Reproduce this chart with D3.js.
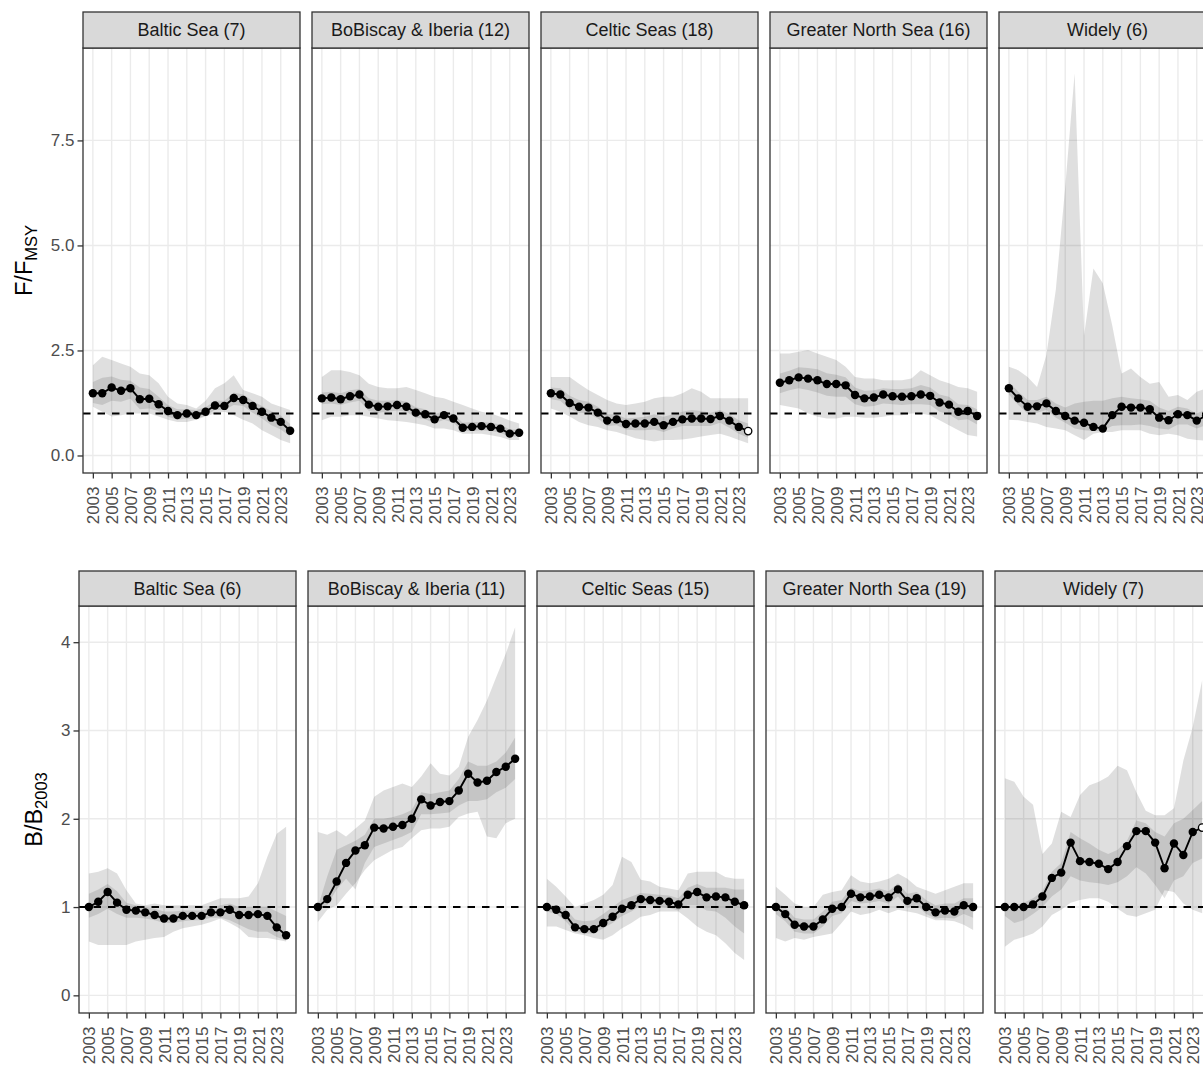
<!DOCTYPE html>
<html>
<head>
<meta charset="utf-8">
<script src="https://cdn.jsdelivr.net/npm/d3@7"></script>
<style>
  html, body { margin: 0; padding: 0; background: #ffffff; }
  svg { display: block; font-family: "Liberation Sans", Arial, Helvetica, sans-serif; }
</style>
</head>
<body>
<svg id="chart" width="1203" height="1081"></svg>
<script>
// ---------------- DATA ----------------
const years = [2003,2004,2005,2006,2007,2008,2009,2010,2011,2012,2013,2014,2015,2016,2017,2018,2019,2020,2021,2022,2023,2024];
const tickYears = [2003,2005,2007,2009,2011,2013,2015,2017,2019,2021,2023];

const fRegions = ["Baltic Sea (7)", "BoBiscay & Iberia (12)", "Celtic Seas (18)", "Greater North Sea (16)", "Widely (6)"];
const bRegions = ["Baltic Sea (6)", "BoBiscay & Iberia (11)", "Celtic Seas (15)", "Greater North Sea (19)", "Widely (7)"];

const fTicks = [0, 2.5, 5.0, 7.5];
const bTicks = [0, 1, 2, 3, 4];

// F / FMSY  (top row)
const fBalticMean = [1.48,1.48,1.62,1.54,1.60,1.34,1.35,1.22,1.06,0.96,1.00,0.96,1.04,1.19,1.18,1.37,1.32,1.18,1.04,0.90,0.80,0.59];
const fBalticHi95 = [2.15,2.35,2.27,2.19,2.11,1.95,1.91,1.72,1.40,1.24,1.20,1.12,1.30,1.60,1.72,1.91,1.56,1.48,1.40,1.24,1.16,1.08];
const fBalticLo95 = [1.16,1.04,0.93,0.96,1.00,1.00,1.00,0.93,0.85,0.80,0.80,0.85,0.93,1.00,1.04,0.96,0.85,0.76,0.60,0.49,0.37,0.29];
const fBalticHi50 = [1.75,1.85,1.88,1.80,1.78,1.62,1.58,1.40,1.20,1.10,1.10,1.08,1.15,1.30,1.30,1.50,1.45,1.30,1.18,1.05,0.95,0.75];
const fBalticLo50 = [1.25,1.20,1.30,1.28,1.35,1.10,1.12,1.05,0.92,0.85,0.88,0.86,0.95,1.08,1.08,1.20,1.18,1.02,0.88,0.72,0.62,0.45];

const fBiscayMean = [1.36,1.38,1.34,1.41,1.45,1.21,1.16,1.17,1.20,1.16,1.02,0.98,0.86,0.96,0.88,0.66,0.68,0.70,0.68,0.64,0.52,0.54];
const fBiscayHi95 = [1.87,2.03,2.03,1.99,1.91,1.71,1.63,1.60,1.60,1.63,1.56,1.48,1.40,1.36,1.28,1.20,1.12,1.04,1.00,0.92,0.83,0.76];
const fBiscayLo95 = [0.84,0.92,0.92,0.96,0.96,0.92,0.88,0.84,0.82,0.80,0.76,0.72,0.64,0.64,0.60,0.52,0.52,0.52,0.48,0.44,0.37,0.37];
const fBiscayHi50 = [1.50,1.52,1.48,1.55,1.58,1.36,1.30,1.30,1.32,1.28,1.15,1.10,0.98,1.06,0.98,0.78,0.80,0.80,0.78,0.74,0.62,0.62];
const fBiscayLo50 = [1.22,1.24,1.20,1.26,1.30,1.06,1.02,1.04,1.07,1.04,0.90,0.86,0.76,0.85,0.78,0.58,0.58,0.60,0.58,0.54,0.44,0.46];

const fCelticMean = [1.48,1.45,1.25,1.16,1.14,1.02,0.83,0.86,0.75,0.76,0.76,0.80,0.72,0.80,0.86,0.88,0.88,0.87,0.94,0.83,0.68,0.58];
const fCelticHi95 = [1.87,1.87,1.87,1.71,1.56,1.44,1.32,1.24,1.20,1.24,1.28,1.36,1.40,1.40,1.48,1.60,1.52,1.36,1.36,1.36,1.36,1.36];
const fCelticLo95 = [1.12,1.04,0.93,0.80,0.72,0.68,0.60,0.56,0.49,0.41,0.37,0.33,0.37,0.37,0.38,0.41,0.45,0.49,0.52,0.45,0.37,0.29];
const fCelticHi50 = [1.62,1.60,1.42,1.32,1.28,1.16,0.98,0.98,0.88,0.90,0.92,0.98,0.92,0.98,1.04,1.08,1.06,1.02,1.08,0.98,0.84,0.76];
const fCelticLo50 = [1.34,1.30,1.10,1.02,1.00,0.88,0.70,0.72,0.62,0.60,0.60,0.62,0.56,0.64,0.70,0.70,0.70,0.70,0.78,0.66,0.52,0.42];

const fNorthMean = [1.73,1.79,1.86,1.83,1.79,1.70,1.70,1.67,1.44,1.36,1.38,1.45,1.41,1.40,1.41,1.45,1.42,1.26,1.21,1.04,1.06,0.94];
const fNorthHi95 = [2.43,2.43,2.47,2.51,2.43,2.35,2.27,2.11,1.87,1.83,1.83,1.79,1.79,1.79,1.83,2.03,1.91,1.79,1.72,1.63,1.60,1.52];
const fNorthLo95 = [1.20,1.16,1.12,1.00,0.92,0.88,0.88,0.92,0.92,0.90,0.90,0.92,0.96,0.96,1.00,1.00,0.96,0.84,0.72,0.60,0.49,0.45];
const fNorthHi50 = [1.95,2.02,2.10,2.08,2.05,1.96,1.92,1.86,1.62,1.54,1.55,1.60,1.58,1.58,1.60,1.68,1.62,1.45,1.40,1.22,1.20,1.10];
const fNorthLo50 = [1.48,1.55,1.60,1.56,1.50,1.42,1.40,1.40,1.22,1.16,1.18,1.24,1.22,1.20,1.22,1.22,1.20,1.04,0.98,0.84,0.86,0.74];

const fWidelyMean = [1.60,1.36,1.16,1.17,1.24,1.06,0.94,0.83,0.78,0.68,0.64,0.96,1.16,1.14,1.14,1.10,0.90,0.84,0.98,0.96,0.83,0.95];
const fWidelyHi95 = [2.11,2.03,1.87,1.63,2.40,3.95,6.40,9.10,2.85,4.45,4.10,3.10,1.95,2.07,1.87,1.71,1.75,1.40,1.44,1.32,1.52,1.60];
const fWidelyLo95 = [0.85,0.84,0.80,0.76,0.68,0.64,0.60,0.48,0.37,0.52,0.56,0.56,0.60,0.60,0.60,0.52,0.48,0.52,0.48,0.40,0.37,0.35];
const fWidelyHi50 = [1.75,1.52,1.32,1.32,1.40,1.24,1.14,1.24,1.28,1.30,1.30,1.36,1.40,1.36,1.34,1.30,1.14,1.06,1.16,1.12,1.00,1.10];
const fWidelyLo50 = [1.45,1.20,1.00,1.02,1.08,0.90,0.78,0.64,0.60,0.58,0.58,0.70,0.72,0.72,0.74,0.70,0.64,0.62,0.74,0.74,0.64,0.72];

// B / B2003  (bottom row)
const bBalticMean = [1.00,1.06,1.17,1.05,0.97,0.96,0.94,0.91,0.87,0.87,0.90,0.90,0.90,0.94,0.94,0.97,0.91,0.91,0.92,0.90,0.77,0.68];
const bBalticHi95 = [1.38,1.40,1.44,1.38,1.19,1.04,1.02,1.04,1.02,1.02,1.02,1.02,1.02,1.06,1.10,1.10,1.10,1.12,1.27,1.57,1.83,1.91];
const bBalticLo95 = [0.61,0.57,0.57,0.57,0.57,0.61,0.63,0.65,0.66,0.72,0.76,0.78,0.80,0.83,0.87,0.82,0.76,0.66,0.65,0.65,0.63,0.61];
const bBalticHi50 = [1.15,1.20,1.26,1.18,1.05,1.02,1.00,0.98,0.95,0.95,0.96,0.96,0.96,1.00,1.02,1.04,1.00,1.00,1.00,1.00,0.95,0.90];
const bBalticLo50 = [0.88,0.92,0.98,0.92,0.88,0.88,0.87,0.85,0.82,0.82,0.84,0.85,0.85,0.88,0.88,0.85,0.80,0.75,0.72,0.72,0.66,0.62];

const bBiscayMean = [1.00,1.09,1.29,1.50,1.64,1.70,1.90,1.89,1.91,1.93,2.00,2.22,2.15,2.19,2.20,2.32,2.51,2.41,2.43,2.53,2.59,2.68];
const bBiscayHi95 = [1.85,1.82,1.87,1.80,1.89,1.98,2.25,2.32,2.36,2.40,2.36,2.48,2.63,2.51,2.49,2.59,2.93,3.12,3.34,3.61,3.87,4.17];
const bBiscayLo95 = [0.83,0.97,1.02,1.15,1.27,1.42,1.53,1.59,1.65,1.68,1.78,1.87,1.89,1.89,1.91,2.02,2.06,2.08,1.80,1.78,1.95,2.00];
const bBiscayHi50 = [1.00,1.35,1.65,1.70,1.75,1.82,2.00,2.00,2.02,2.05,2.10,2.30,2.28,2.30,2.32,2.45,2.65,2.60,2.60,2.65,2.75,2.92];
const bBiscayLo50 = [0.98,1.02,1.20,1.32,1.20,1.50,1.68,1.72,1.76,1.80,1.85,2.05,2.05,2.06,2.07,2.15,2.20,2.20,2.22,2.30,2.35,2.45];

const bCelticMean = [1.00,0.97,0.91,0.77,0.75,0.75,0.82,0.89,0.98,1.02,1.09,1.08,1.07,1.06,1.03,1.14,1.17,1.11,1.12,1.11,1.06,1.02];
const bCelticHi95 = [1.32,1.23,1.12,1.00,1.04,1.08,1.14,1.25,1.57,1.51,1.31,1.29,1.23,1.21,1.19,1.38,1.40,1.40,1.40,1.34,1.32,1.32];
const bCelticLo95 = [0.78,0.78,0.74,0.70,0.68,0.65,0.63,0.68,0.76,0.82,0.89,0.91,0.95,0.95,0.95,0.87,0.78,0.72,0.68,0.59,0.48,0.40];
const bCelticHi50 = [1.02,1.02,0.98,0.86,0.84,0.85,0.92,1.00,1.08,1.12,1.16,1.15,1.14,1.13,1.10,1.22,1.26,1.22,1.22,1.22,1.20,1.20];
const bCelticLo50 = [0.95,0.92,0.84,0.72,0.70,0.70,0.76,0.82,0.90,0.95,1.02,1.02,1.00,0.99,0.96,1.02,1.02,0.96,0.95,0.88,0.78,0.70];

const bNorthMean = [1.00,0.92,0.80,0.78,0.78,0.86,0.98,1.00,1.15,1.11,1.12,1.14,1.11,1.20,1.07,1.10,1.00,0.94,0.96,0.95,1.02,1.00];
const bNorthHi95 = [1.23,1.14,1.04,1.00,1.00,1.14,1.17,1.19,1.36,1.29,1.27,1.29,1.32,1.38,1.32,1.23,1.19,1.15,1.19,1.23,1.27,1.27];
const bNorthLo95 = [0.65,0.61,0.65,0.63,0.66,0.68,0.70,0.82,0.95,0.91,0.93,0.97,0.93,0.97,0.95,0.93,0.89,0.85,0.85,0.84,0.80,0.74];
const bNorthHi50 = [1.05,1.00,0.88,0.86,0.86,0.95,1.06,1.08,1.22,1.18,1.19,1.21,1.18,1.27,1.15,1.17,1.08,1.02,1.04,1.04,1.10,1.10];
const bNorthLo50 = [0.92,0.84,0.72,0.70,0.70,0.78,0.90,0.93,1.07,1.04,1.05,1.07,1.04,1.12,0.99,1.02,0.92,0.87,0.88,0.87,0.92,0.88];

const bWidelyMean = [1.00,1.00,1.00,1.03,1.12,1.33,1.39,1.73,1.52,1.51,1.49,1.43,1.51,1.69,1.86,1.86,1.73,1.44,1.72,1.59,1.85,1.90];
const bWidelyHi95 = [2.46,2.42,2.25,2.16,1.60,1.72,2.08,2.02,2.27,2.38,2.42,2.48,2.60,2.55,2.30,2.09,2.04,2.04,2.12,2.66,3.04,3.57];
const bWidelyLo95 = [0.55,0.63,0.66,0.70,0.78,0.91,0.97,1.05,1.08,1.10,1.10,1.06,0.98,0.91,0.89,0.93,0.97,1.19,1.17,1.04,0.97,0.93];
const bWidelyHi50 = [1.00,1.02,1.05,1.10,1.18,1.40,1.50,1.85,1.78,1.72,1.65,1.60,1.65,1.75,1.98,1.95,1.85,1.80,1.95,2.00,2.10,2.20];
const bWidelyLo50 = [0.90,0.82,0.85,0.92,1.00,1.12,1.20,1.35,1.30,1.28,1.27,1.25,1.28,1.35,1.45,1.38,1.25,1.10,1.30,1.35,1.50,1.55];

// index of years plotted as an open symbol, per panel (-1 = none)
const fOpenIndex = [-1, -1, 21, -1, -1];
const bOpenIndex = [-1, -1, -1, -1, 21];

// ---------------- BUILD PANEL TABLES ----------------
const fSeries = [
  [fBalticMean, fBalticLo95, fBalticHi95, fBalticLo50, fBalticHi50],
  [fBiscayMean, fBiscayLo95, fBiscayHi95, fBiscayLo50, fBiscayHi50],
  [fCelticMean, fCelticLo95, fCelticHi95, fCelticLo50, fCelticHi50],
  [fNorthMean, fNorthLo95, fNorthHi95, fNorthLo50, fNorthHi50],
  [fWidelyMean, fWidelyLo95, fWidelyHi95, fWidelyLo50, fWidelyHi50]
];
const bSeries = [
  [bBalticMean, bBalticLo95, bBalticHi95, bBalticLo50, bBalticHi50],
  [bBiscayMean, bBiscayLo95, bBiscayHi95, bBiscayLo50, bBiscayHi50],
  [bCelticMean, bCelticLo95, bCelticHi95, bCelticLo50, bCelticHi50],
  [bNorthMean, bNorthLo95, bNorthHi95, bNorthLo50, bNorthHi50],
  [bWidelyMean, bWidelyLo95, bWidelyHi95, bWidelyLo50, bWidelyHi50]
];
function toRows(s, openIdx) {
  return years.map((yr, i) => ({
    year: yr, mean: s[0][i], lo95: s[1][i], hi95: s[2][i], lo50: s[3][i], hi50: s[4][i],
    open: i === openIdx
  }));
}

// ---------------- LAYOUT ----------------
const W = 1203, H = 1081;
const panelW = 217, panelStep = 229;
const rowsCfg = [
  { left: 83, stripTop: 12, panelTop: 48, panelBottom: 473, domain: [-0.417, 9.70],
    ticks: fTicks, fmt: d3.format(".1f"), regions: fRegions, series: fSeries, open: fOpenIndex,
    title: ["F/F", "MSY"], titleX: 32 },
  { left: 79, stripTop: 571, panelTop: 606, panelBottom: 1013, domain: [-0.20, 4.41],
    ticks: bTicks, fmt: d3.format("d"), regions: bRegions, series: bSeries, open: bOpenIndex,
    title: ["B/B", "2003"], titleX: 42 }
];

const svg = d3.select("#chart");
svg.append("rect").attr("width", W).attr("height", H).attr("fill", "#ffffff");

const x = d3.scaleLinear().domain([2003 - 1.05, 2024 + 1.05]).range([0, panelW]);

const gridCol = "#ebebeb", borderCol = "#333333", tickTextCol = "#4d4d4d";
const fontStack = "'Liberation Sans', Arial, Helvetica, sans-serif";

rowsCfg.forEach(cfg => {
  const y = d3.scaleLinear().domain(cfg.domain).range([cfg.panelBottom, cfg.panelTop]);

  cfg.regions.forEach((region, pi) => {
    const px = cfg.left + pi * panelStep;
    const g = svg.append("g").attr("transform", `translate(${px},0)`);
    const data = toRows(cfg.series[pi], cfg.open[pi]);

    g.append("rect").attr("x", 0).attr("y", cfg.panelTop).attr("width", panelW)
      .attr("height", cfg.panelBottom - cfg.panelTop).attr("fill", "#ffffff");

    // grid
    g.append("g").selectAll("line").data(cfg.ticks).join("line")
      .attr("x1", 0).attr("x2", panelW).attr("y1", d => y(d)).attr("y2", d => y(d))
      .attr("stroke", gridCol).attr("stroke-width", 1.4);
    g.append("g").selectAll("line").data(tickYears).join("line")
      .attr("x1", d => x(d)).attr("x2", d => x(d)).attr("y1", cfg.panelTop).attr("y2", cfg.panelBottom)
      .attr("stroke", gridCol).attr("stroke-width", 1.4);

    // ribbons
    const area95 = d3.area().x(d => x(d.year)).y0(d => y(d.lo95)).y1(d => y(d.hi95));
    const area50 = d3.area().x(d => x(d.year)).y0(d => y(d.lo50)).y1(d => y(d.hi50));
    g.append("path").datum(data).attr("d", area95).attr("fill", "#000").attr("fill-opacity", 0.125);
    g.append("path").datum(data).attr("d", area50).attr("fill", "#000").attr("fill-opacity", 0.115);

    // reference line at 1
    g.append("line").attr("x1", 0).attr("x2", panelW).attr("y1", y(1)).attr("y2", y(1))
      .attr("stroke", "#000").attr("stroke-width", 1.9).attr("stroke-dasharray", "7.5,7");

    // mean line
    const line = d3.line().x(d => x(d.year)).y(d => y(d.mean));
    g.append("path").datum(data).attr("d", line).attr("fill", "none")
      .attr("stroke", "#000").attr("stroke-width", 1.9).attr("stroke-linejoin", "round");

    // points
    g.append("g").selectAll("circle").data(data).join("circle")
      .attr("cx", d => x(d.year)).attr("cy", d => y(d.mean)).attr("r", d => d.open ? 3.7 : 4.2)
      .attr("fill", d => d.open ? "#ffffff" : "#000")
      .attr("stroke", "#000").attr("stroke-width", d => d.open ? 1.3 : 0);

    // panel border
    g.append("rect").attr("x", 0).attr("y", cfg.panelTop).attr("width", panelW)
      .attr("height", cfg.panelBottom - cfg.panelTop).attr("fill", "none")
      .attr("stroke", borderCol).attr("stroke-width", 1.3);

    // strip
    g.append("rect").attr("x", 0).attr("y", cfg.stripTop).attr("width", panelW)
      .attr("height", cfg.panelTop - cfg.stripTop).attr("fill", "#d9d9d9")
      .attr("stroke", borderCol).attr("stroke-width", 1.3);
    g.append("text").attr("x", panelW / 2).attr("y", (cfg.stripTop + cfg.panelTop) / 2)
      .attr("dy", "0.36em").attr("text-anchor", "middle").attr("font-size", 18)
      .attr("fill", "#1a1a1a").text(region);

    // x axis
    const xAxis = d3.axisBottom(x).tickValues(tickYears).tickFormat(d3.format("d")).tickSize(5.5).tickSizeOuter(0);
    const xg = g.append("g").attr("transform", `translate(0,${cfg.panelBottom})`).call(xAxis);
    xg.select(".domain").remove();
    xg.selectAll(".tick line").attr("stroke", borderCol).attr("stroke-width", 1.3);
    xg.selectAll(".tick text")
      .attr("transform", "rotate(-90)")
      .attr("x", -13.5).attr("y", 0).attr("dy", "0.36em")
      .attr("text-anchor", "end").attr("font-size", 17).attr("fill", tickTextCol)
      .style("font-family", fontStack);

    // y axis only on first panel of each row
    if (pi === 0) {
      const yAxis = d3.axisLeft(y).tickValues(cfg.ticks).tickFormat(cfg.fmt).tickSize(5.5).tickPadding(3).tickSizeOuter(0);
      const yg = g.append("g").call(yAxis);
      yg.select(".domain").remove();
      yg.selectAll(".tick line").attr("stroke", borderCol).attr("stroke-width", 1.3);
      yg.selectAll(".tick text").attr("font-size", 17).attr("fill", tickTextCol)
        .style("font-family", fontStack);
    }
  });

  // y title
  const cy = (cfg.panelTop + cfg.panelBottom) / 2;
  const t = svg.append("text")
    .attr("transform", `translate(${cfg.titleX},${cy}) rotate(-90)`)
    .attr("text-anchor", "middle").attr("font-size", 23.5).attr("fill", "#000");
  t.append("tspan").text(cfg.title[0]);
  t.append("tspan").attr("font-size", 16.5).attr("dy", "0.32em").text(cfg.title[1]);
});
</script>
</body>
</html>
